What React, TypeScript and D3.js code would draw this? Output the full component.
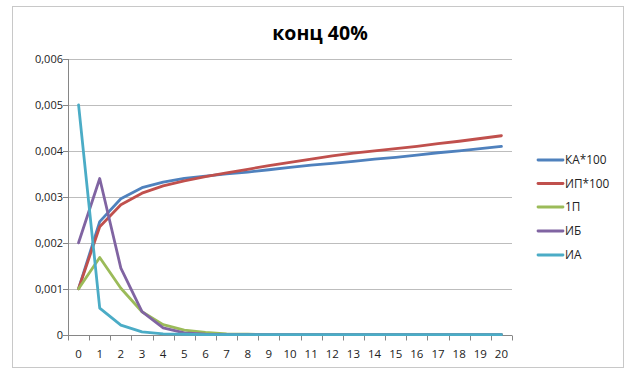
import React, { useEffect, useRef } from "react";
import * as d3 from "d3";

const categories: string[] = Array.from({ length: 21 }, (_, i) => String(i));
const yTicks: number[] = [0, 0.001, 0.002, 0.003, 0.004, 0.005, 0.006];
const yTickLabels: string[] = ["0", "0,001", "0,002", "0,003", "0,004", "0,005", "0,006"];

const seriesNames: string[] = ["КА*100", "ИП*100", "1П", "ИБ", "ИА"];
const seriesColors: string[] = ["#4F81BD", "#C0504D", "#9BBB59", "#8064A2", "#4BACC6"];

const ka100: number[] = [0.001, 0.00246, 0.00296, 0.0032, 0.00332, 0.0034, 0.00345, 0.0035, 0.00354, 0.00359, 0.00364, 0.00369, 0.00373, 0.00377, 0.00382, 0.00386, 0.00391, 0.00396, 0.004, 0.00405, 0.0041];
const ip100: number[] = [0.001, 0.00235, 0.00283, 0.00308, 0.00324, 0.00335, 0.00344, 0.00352, 0.0036, 0.00368, 0.00375, 0.00382, 0.00389, 0.00395, 0.004, 0.00405, 0.0041, 0.00416, 0.00421, 0.00427, 0.00433];
const p1: number[] = [0.001, 0.00168, 0.00101, 0.0005, 0.00022, 0.0001, 0.00005, 0.00002, 0.00001, 0, 0, 0, 0, 0, 0, 0, 0, 0, 0, 0, 0];
const ib: number[] = [0.002, 0.0034, 0.00145, 0.0005, 0.00015, 0.00004, 0.00001, 0, 0, 0, 0, 0, 0, 0, 0, 0, 0, 0, 0, 0, 0];
const ia: number[] = [0.005, 0.00058, 0.00021, 0.00006, 0.00002, 0.00001, 0, 0, 0, 0, 0, 0, 0, 0, 0, 0, 0, 0, 0, 0, 0];

const allSeries: number[][] = [ka100, ip100, p1, ib, ia];

const FONT = "Open Sans, Liberation Sans, Arial, sans-serif";

export default function App() {
  const ref = useRef<SVGSVGElement | null>(null);

  useEffect(() => {
    const svg = d3.select(ref.current);
    svg.selectAll("*").remove();

    const W = 640, H = 382;
    const left = 68, right = 512, top = 59, bottom = 334.7;

    svg.append("rect").attr("x", 0).attr("y", 0).attr("width", W).attr("height", H).attr("fill", "#fff");
    svg.append("rect").attr("x", 12.5).attr("y", 6.5).attr("width", 611).attr("height", 361)
      .attr("fill", "#fff").attr("stroke", "#c8c8c8").attr("stroke-width", 1);

    svg.append("text").attr("x", 320).attr("y", 39.5).attr("text-anchor", "middle")
      .attr("font-family", FONT).attr("font-weight", "bold").attr("font-size", 19.5).attr("fill", "#000")
      .text("конц 40%");

    const xBand = d3.scaleBand<string>().domain(categories).range([left, right]).paddingInner(0).paddingOuter(0);
    const x = (i: number) => (xBand(categories[i]) as number) + xBand.bandwidth() / 2;
    const y = d3.scaleLinear().domain([0, 0.006]).range([bottom, top]);

    const g = svg.append("g");
    yTicks.forEach((t, i) => {
      const yy = Math.round(y(t)) + 0.5;
      if (t !== 0) {
        g.append("line").attr("x1", left).attr("x2", right).attr("y1", yy).attr("y2", yy)
          .attr("stroke", "#bdbdbd").attr("stroke-width", 1.2);
      }
      g.append("line").attr("x1", left - 5).attr("x2", left).attr("y1", yy).attr("y2", yy)
        .attr("stroke", "#868686").attr("stroke-width", 1);
      g.append("text").attr("x", left - 5).attr("y", yy).attr("dy", "0.35em").attr("text-anchor", "end")
        .attr("font-family", FONT).attr("font-size", 11).attr("fill", "#222").text(yTickLabels[i]);
    });

    const y0 = Math.round(y(0)) + 0.5;
    g.append("line").attr("x1", left + 0.5).attr("x2", left + 0.5).attr("y1", top).attr("y2", y0)
      .attr("stroke", "#868686");
    g.append("line").attr("x1", left).attr("x2", right).attr("y1", y0).attr("y2", y0)
      .attr("stroke", "#868686");
    for (let i = 0; i <= categories.length; i++) {
      const xx = Math.round(left + i * xBand.step()) + 0.5;
      g.append("line").attr("x1", xx).attr("x2", xx).attr("y1", y0).attr("y2", y0 + 5).attr("stroke", "#868686");
    }
    categories.forEach((c, i) => {
      g.append("text").attr("x", x(i)).attr("y", y0 + 22).attr("text-anchor", "middle")
        .attr("font-family", FONT).attr("font-size", 11.5).attr("fill", "#222").text(c);
    });

    const line = d3.line<number>().x((_, i) => x(i)).y((d) => y(d));
    allSeries.forEach((s, k) => {
      svg.append("path").attr("d", line(s) as string).attr("fill", "none")
        .attr("stroke", seriesColors[k]).attr("stroke-width", 2.8)
        .attr("stroke-linejoin", "round").attr("stroke-linecap", "round");
    });

    const legY = [160, 183.5, 207, 231, 255];
    seriesNames.forEach((n, k) => {
      svg.append("line").attr("x1", 538).attr("x2", 563).attr("y1", legY[k]).attr("y2", legY[k])
        .attr("stroke", seriesColors[k]).attr("stroke-width", 2.8).attr("stroke-linecap", "round");
      svg.append("text").attr("x", 565).attr("y", legY[k]).attr("dy", "0.35em")
        .attr("font-family", FONT).attr("font-size", 11.8).attr("fill", "#222").text(n);
    });
  }, []);

  return (
    <svg ref={ref} width={640} height={382} style={{ position: "absolute", left: 0, top: 0 }} />
  );
}
